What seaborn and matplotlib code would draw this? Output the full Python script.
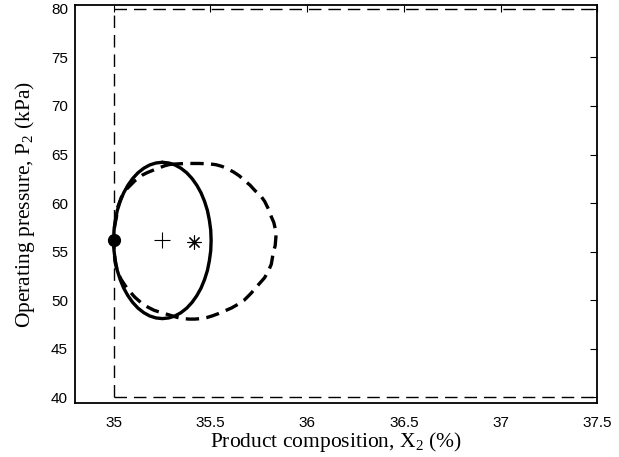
import numpy as np
import pandas as pd
import seaborn as sns
import matplotlib
matplotlib.use('Agg')
import matplotlib.pyplot as plt

# constraint box (dashed thin lines)
x_min, x_max = 35.0, 37.5
p_min, p_max = 40.0, 80.0

# solid ellipse (clockwise from the top)
solid_x = [35.252, 35.285, 35.317, 35.348, 35.378, 35.405, 35.430, 35.452, 35.470,
           35.485, 35.495, 35.502, 35.504, 35.502, 35.495, 35.485, 35.470, 35.452,
           35.430, 35.405, 35.378, 35.348, 35.317, 35.285, 35.252, 35.219, 35.187,
           35.156, 35.126, 35.099, 35.074, 35.052, 35.034, 35.019, 35.009, 35.002,
           35.000, 35.002, 35.009, 35.019, 35.034, 35.052, 35.074, 35.099, 35.126,
           35.156, 35.187, 35.219, 35.252]
solid_p = [64.20, 64.13, 63.93, 63.59, 63.12, 62.54, 61.84, 61.05, 60.18,
           59.23, 58.23, 57.20, 56.15, 55.10, 54.07, 53.07, 52.12, 51.25,
           50.46, 49.76, 49.18, 48.71, 48.37, 48.17, 48.10, 48.17, 48.37,
           48.71, 49.18, 49.76, 50.46, 51.25, 52.12, 53.07, 54.07, 55.10,
           56.15, 57.20, 58.23, 59.23, 60.18, 61.05, 61.84, 62.54, 63.12,
           63.59, 63.93, 64.13, 64.20]

# dashed egg-shaped region
dash_x = [35.29, 35.34, 35.38, 35.44, 35.49, 35.53, 35.56, 35.59, 35.62, 35.65, 35.675,
          35.705, 35.73, 35.76, 35.78, 35.80, 35.815, 35.828, 35.835, 35.84, 35.838,
          35.835, 35.826, 35.815, 35.80, 35.78, 35.76, 35.74, 35.71, 35.675, 35.645,
          35.61, 35.575, 35.54, 35.51, 35.48, 35.45, 35.42, 35.39, 35.36, 35.33,
          35.30, 35.25, 35.21, 35.18, 35.15, 35.13, 35.11, 35.09, 35.07, 35.055,
          35.04, 35.025, 35.015, 35.008, 35.005, 35.0, 35.003, 35.005, 35.01, 35.015,
          35.02, 35.03, 35.04, 35.055, 35.07, 35.09, 35.11, 35.13, 35.15, 35.175,
          35.20, 35.22, 35.245, 35.265, 35.29]
dash_p = [63.98, 64.05, 64.08, 64.08, 64.05, 63.95, 63.78, 63.52, 63.20, 62.80, 62.35,
          61.85, 61.30, 60.75, 60.20, 59.40, 58.60, 58.00, 57.40, 56.80, 56.30,
          55.60, 55.00, 53.70, 53.00, 52.30, 51.85, 51.40, 50.70, 50.00, 49.60,
          49.20, 48.90, 48.60, 48.38, 48.20, 48.10, 48.05, 48.05, 48.10, 48.22,
          48.40, 48.70, 48.95, 49.25, 49.60, 49.95, 50.30, 50.75, 51.20, 51.65,
          52.10, 52.70, 53.30, 53.90, 54.50, 56.10, 56.85, 57.60, 58.10, 58.60,
          59.50, 60.05, 60.60, 61.05, 61.50, 61.90, 62.30, 62.60, 62.90, 63.15,
          63.35, 63.52, 63.70, 63.85, 63.98]

# markers
dot = (35.0, 56.15)
plus = (35.252, 56.15)
star = (35.415, 55.97)

sns.set_theme(style='white')
plt.rcParams['font.family'] = ['Liberation Sans', 'DejaVu Sans']
plt.rcParams['mathtext.fontset'] = 'custom'
plt.rcParams['mathtext.rm'] = 'Liberation Serif'

fig = plt.figure(figsize=(6.19, 4.57), dpi=100)
ax = fig.add_axes([0.121, 0.118, 0.844, 0.871])

# constraint lines
ax.plot([x_min, x_min], [p_min, p_max], color='black', lw=1, dashes=(9, 5))
ax.plot([x_min, x_max], [p_max, p_max], color='black', lw=1, dashes=(9, 5))
ax.plot([x_min, x_max], [p_min, p_min], color='black', lw=1, dashes=(9, 5))

sns.lineplot(x=solid_x, y=solid_p, sort=False, estimator=None, color='black', lw=2.4, ax=ax)
sns.lineplot(x=dash_x, y=dash_p, sort=False, estimator=None, color='black', lw=2.4,
             ax=ax).lines[-1].set_dashes((4, 2.2))

ax.plot(*dot, 'o', color='black', ms=8.5)
ax.plot(*plus, marker='+', color='black', ms=12, mew=0.8, ls='none')
ax.plot(*star, marker=(8, 2, 0), color='black', ms=10, mew=0.8, ls='none')

ax.set_xlim(34.8, 37.5)
ax.set_ylim(39.4, 80.4)
ax.set_xticks([35, 35.5, 36, 36.5, 37, 37.5])
ax.set_xticklabels(['35', '35.5', '36', '36.5', '37', '37.5'])
ax.set_yticks(np.arange(40, 81, 5))
ax.tick_params(direction='in', length=5, width=0.8, top=True, right=True,
               labelsize=11, colors='black', pad=5)
ax.tick_params(axis='x', pad=9)
for s in ax.spines.values():
    s.set_color('black')
    s.set_linewidth(1.3)

ax.set_xlabel(r'Product composition, X$_{2}$ (%)', family='Liberation Serif',
              fontsize=15.5, labelpad=0, color='black')
ax.set_ylabel(r'Operating pressure, P$_{2}$ (kPa)', family='Liberation Serif',
              fontsize=15.5, labelpad=10, color='black')

fig.savefig('out.png', dpi=100)
